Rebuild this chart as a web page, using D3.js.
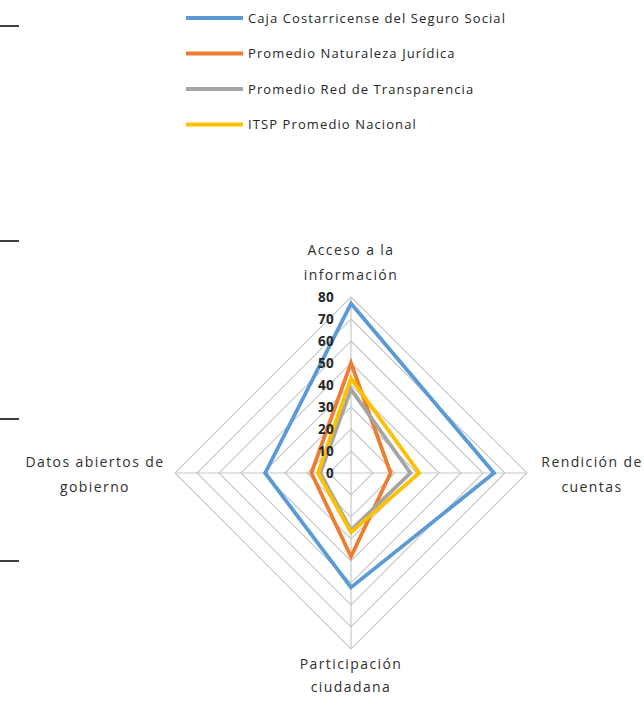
<!DOCTYPE html>
<html><head><meta charset="utf-8">
<script src="https://cdn.jsdelivr.net/npm/d3@7"></script>
<style>body{margin:0;background:#fff;}svg{display:block;}</style>
</head><body>
<script>
const axesNames = [["Acceso a la","información"],["Rendición de","cuentas"],["Participación","ciudadana"],["Datos abiertos de","gobierno"]];
const seriesNames = ["Caja Costarricense del Seguro Social","Promedio Naturaleza Jurídica","Promedio Red de Transparencia","ITSP Promedio Nacional"];
const ccss = [77, 65, 52, 39];
const naturaleza = [50, 18, 38, 18];
const red = [38, 27, 26, 14];
const nacional = [43, 31, 27, 15];
const tickValues = [0,10,20,30,40,50,60,70,80];
const colors = ["#5B9BD5","#ED7D31","#A5A5A5","#FFC000"];
const allSeries = [ccss, naturaleza, red, nacional];

const W=644,H=701;
const svg=d3.select("body").append("svg").attr("width",W).attr("height",H);
const cx=351, cy=473, R=176;
const r=d3.scaleLinear().domain([0,80]).range([0,R]);
const ang=d3.scaleLinear().domain([0,axesNames.length]).range([0,2*Math.PI]);
const pt=(i,v)=>[cx+r(v)*Math.sin(ang(i)), cy-r(v)*Math.cos(ang(i))];
const font="Open Sans, sans-serif";

// left decorative ticks
[26,241,419,561].forEach(y=>svg.append("line").attr("x1",0).attr("x2",19).attr("y1",y).attr("y2",y).attr("stroke","#404040").attr("stroke-width",2));

const g=svg.append("g");
// grid rings
tickValues.slice(1).forEach(t=>{
  const pts=d3.range(axesNames.length).map(i=>pt(i,t));
  g.append("polygon").attr("points",pts.map(p=>p.join(",")).join(" ")).attr("fill","none").attr("stroke","#C8C8C8").attr("stroke-width",1.2);
});
// spokes
axesNames.forEach((a,i)=>{
  const p=pt(i,80);
  g.append("line").attr("x1",cx).attr("y1",cy).attr("x2",p[0]).attr("y2",p[1]).attr("stroke","#C8C8C8").attr("stroke-width",1.2);
});
// series
const line=d3.line().curve(d3.curveLinearClosed);
allSeries.forEach((s,k)=>{
  g.append("path").attr("d",line(s.map((v,i)=>pt(i,v)))).attr("fill","none").attr("stroke",colors[k]).attr("stroke-width",3.8).attr("stroke-linejoin","miter");
});
// tick labels
tickValues.forEach(t=>{
  g.append("text").attr("x",cx-17).attr("y",cy-r(t)).attr("dy","0.35em").attr("text-anchor","end")
   .attr("font-family",font).attr("font-weight","bold").attr("font-size",13.5).attr("letter-spacing",0.3).attr("fill","#262626").text(t);
});
// axis labels
const labelPos=[[351,255],[592,467],[351,669],[95,467]];
axesNames.forEach((a,i)=>{
  const t=svg.append("text").attr("text-anchor","middle").attr("font-family",font).attr("font-size",14).attr("letter-spacing",1.4).attr("fill","#303030");
  a.forEach((ln,j)=>t.append("tspan").attr("x",labelPos[i][0]).attr("y",labelPos[i][1]+j*(i===2?23:25)).text(ln));
});
// legend
seriesNames.forEach((n,k)=>{
  const y=18+k*35.5;
  svg.append("line").attr("x1",186).attr("x2",243).attr("y1",y).attr("y2",y).attr("stroke",colors[k]).attr("stroke-width",4);
  svg.append("text").attr("x",248).attr("y",y).attr("dy","0.35em").attr("font-family",font).attr("font-size",13).attr("letter-spacing",1.1).attr("fill","#262626").text(n);
});
</script>
</body></html>
